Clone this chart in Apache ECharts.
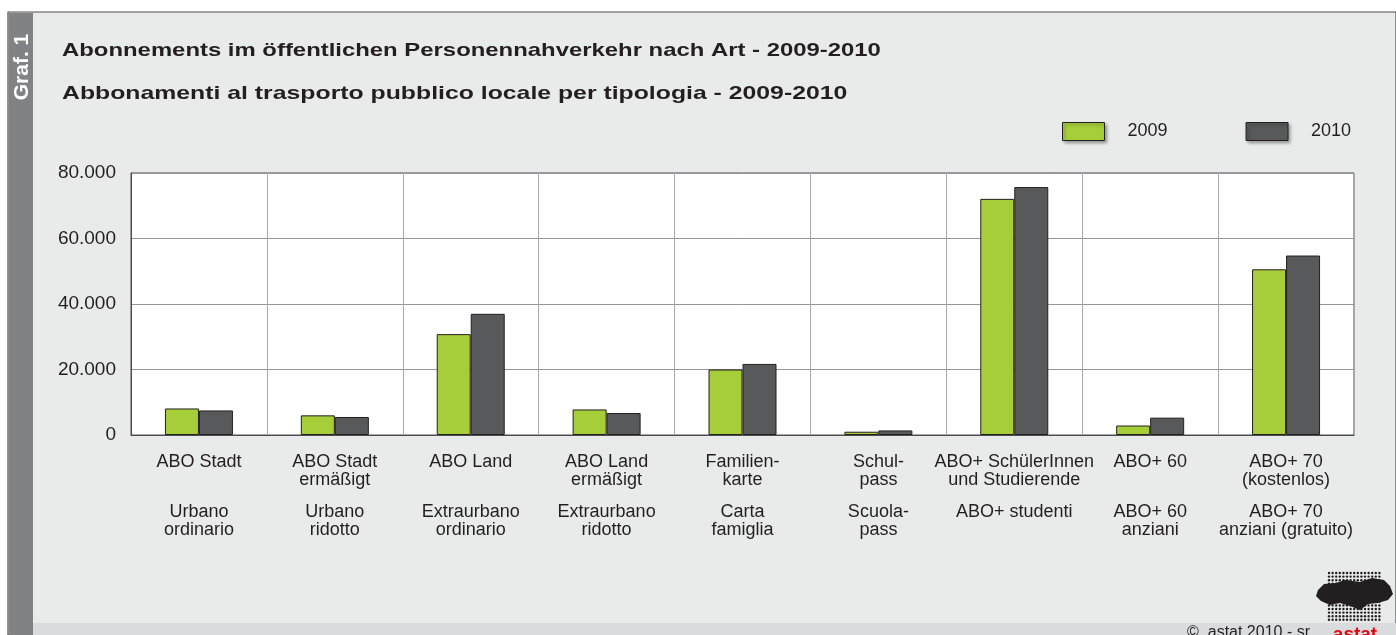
<!DOCTYPE html>
<html>
<head>
<meta charset="utf-8">
<script src="https://cdn.jsdelivr.net/npm/echarts@6/dist/echarts.min.js"></script>
<style>
  html, body { margin: 0; padding: 0; background: #fff; }
  #chart { width: 1396px; height: 635px; }
</style>
</head>
<body>
<div id="chart"></div>
<script>
// categories (German / Italian)
var catDe = ["ABO Stadt", "ABO Stadt\nermäßigt", "ABO Land", "ABO Land\nermäßigt", "Familien-\nkarte",
    "Schul-\npass", "ABO+ SchülerInnen\nund Studierende", "ABO+ 60", "ABO+ 70\n(kostenlos)"];
var catIt = ["Urbano\nordinario", "Urbano\nridotto", "Extraurbano\nordinario", "Extraurbano\nridotto", "Carta\nfamiglia",
    "Scuola-\npass", "ABO+ studenti", "ABO+ 60\nanziani", "ABO+ 70\nanziani (gratuito)"];
var years = ["2009", "2010"];
var val2009 = [8100, 6000, 30800, 7800, 20000, 1000, 72100, 2900, 50600];
var val2010 = [7500, 5500, 37000, 6700, 21700, 1400, 75700, 5300, 54800];
var yTicks = [0, 80000, 20000]; // min, max, interval
var titles = ['Abonnements im öffentlichen Personennahverkehr nach Art - 2009-2010',
    'Abbonamenti al trasporto pubblico locale per tipologia - 2009-2010'];

var font = 'Liberation Sans, Arial, sans-serif';

function lines2(s){
    var p = s.split('\n');
    while(p.length<2) p.push(' ');
    return p;
}

// little dotted logo bottom right
var logo = [];
for(var gx=1329; gx<=1381; gx+=3.6){
    for(var gy=573; gy<=621; gy+=3.6){
        logo.push({type:'circle', shape:{cx:gx, cy:gy, r:1.2}, style:{fill:'#231f20'}, silent:true});
    }
}
logo.push({type:'polygon', shape:{points:[[1318,590],[1324,584],[1336,583],[1345,580],[1360,582],[1372,578],[1384,580],[1390,586],[1393,594],[1388,600],[1378,603],[1368,604],[1360,610],[1350,606],[1340,603],[1330,605],[1321,601],[1316,596]]},
    style:{fill:'#231f20'}, silent:true});

var myChart = echarts.init(document.getElementById('chart'));
var option = {
    backgroundColor: '#fff',
    animation: false,
    textStyle: { fontFamily: font },
    graphic: [
        {type:'rect', shape:{x:8, y:12, width:1388, height:623}, style:{fill:'#e9eaea', stroke:'#4d4d4f', lineWidth:1.2}, silent:true, z:-10},
        {type:'rect', shape:{x:9, y:13, width:24, height:622}, style:{fill:'#808285'}, silent:true, z:-9},
        {type:'rect', shape:{x:33, y:623, width:1363, height:12}, style:{fill:'#dadbdc'}, silent:true, z:-9},
        {type:'text', x:22, y:67, rotation:Math.PI/2,
            style:{text:'Graf. 1', fill:'#fff', font:'bold 21px ' + font, align:'center', verticalAlign:'middle'}, silent:true},
        // titles (the original typeface is wider, so stretch a bit)
        {type:'text', x:62, y:51, scaleX:1.257,
            style:{text:titles[0], fill:'#231f20', font:'bold 19px ' + font, verticalAlign:'middle'}, silent:true},
        {type:'text', x:62, y:94, scaleX:1.305,
            style:{text:titles[1], fill:'#231f20', font:'bold 19px ' + font, verticalAlign:'middle'}, silent:true},
        {type:'text', x:1310, y:633,
            style:{text:'©  astat 2010 - sr', fill:'#231f20', font:'16px ' + font, align:'right', verticalAlign:'middle'}, silent:true},
        {type:'text', x:1355, y:635,
            style:{text:'astat', fill:'#e30613', font:'bold 19px ' + font, align:'center', verticalAlign:'middle'}, silent:true},
        {type:'group', children: logo}
    ],
    legend: {
        data: years,
        left: 1062, top: 122, padding: 0,
        itemWidth: 42, itemHeight: 18, itemGap: 78,
        icon: 'rect',
        itemStyle: { borderColor:'#231f20', borderWidth:1, shadowColor:'rgba(0,0,0,0.35)', shadowBlur:3, shadowOffsetX:2, shadowOffsetY:2 },
        textStyle: { fontSize:18, color:'#231f20', fontFamily:font, padding:[0,0,0,18] }
    },
    grid: {
        left: 131, right: 42, top: 173, bottom: 200,
        show: true, backgroundColor:'#fff', borderColor:'#4d4d4f', borderWidth:1
    },
    xAxis: {
        type: 'category',
        data: catDe,
        axisLine: { lineStyle:{ color:'#4d4d4f', width:1 } },
        axisTick: { show:false },
        splitLine: { show:true, interval:0, lineStyle:{ color:'#a7a9ac', width:1 } },
        axisLabel: {
            interval: 0, margin: 18,
            formatter: function(v, i){
                var d = lines2(catDe[i]), t = lines2(catIt[i]);
                return '{l|' + d[0] + '}\n{l|' + d[1] + '}\n{g| }\n{l|' + t[0] + '}\n{l|' + t[1] + '}';
            },
            rich: {
                l: { fontSize:18, lineHeight:18, color:'#231f20', fontFamily:font, align:'center' },
                g: { fontSize:10, lineHeight:14 }
            }
        }
    },
    yAxis: {
        type: 'value',
        min: yTicks[0], max: yTicks[1], interval: yTicks[2],
        axisLine: { show:true, lineStyle:{ color:'#4d4d4f', width:1 } },
        axisTick: { show:false },
        splitLine: { lineStyle:{ color:'#939598', width:1 } },
        axisLabel: {
            margin: 15, fontSize: 19, color:'#231f20', fontFamily:font,
            formatter: function(v){ return String(v).replace(/\B(?=(\d{3})+(?!\d))/g, '.'); }
        }
    },
    series: [
        {name:years[0], type:'bar', data:val2009, barWidth:34, barGap:'0%',
            itemStyle:{ color:'#a6ce39', borderColor:'#231f20', borderWidth:1 }},
        {name:years[1], type:'bar', data:val2010, barWidth:34, barGap:'0%',
            itemStyle:{ color:'#58595b', borderColor:'#231f20', borderWidth:1 }}
    ]
};
myChart.setOption(option);
</script>
</body>
</html>
